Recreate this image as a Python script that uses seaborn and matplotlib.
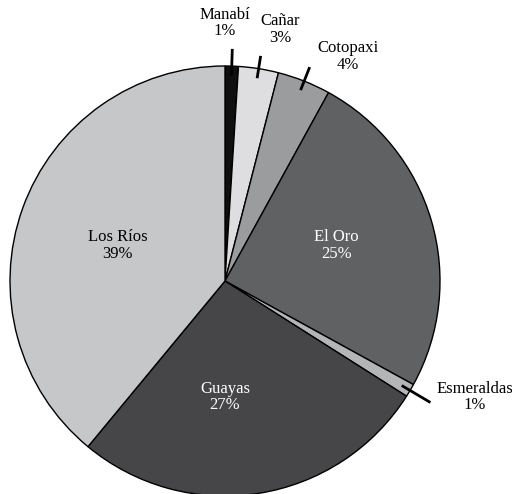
import matplotlib
matplotlib.use("Agg")
import matplotlib.pyplot as plt
import numpy as np
import seaborn as sns

# Share of production by province
provinces = ["Manabí", "Cañar", "Cotopaxi", "El Oro", "Esmeraldas", "Guayas", "Los Ríos"]
shares = [1, 3, 4, 25, 1, 27, 39]
fills = ["#0f0f0f", "#dedee0", "#9b9c9e", "#606163", "#b4b5b7", "#464649", "#c6c7c9"]
text_colors = ["black", "black", "black", "white", "black", "white", "black"]

# Label anchor points (axes data units, pie radius = 1)
label_x = [0.0, 0.256, 0.57, 0.52, 1.16, 0.0, -0.50]
label_y = [1.20, 1.17, 1.045, 0.165, -0.54, -0.54, 0.165]
# Slices whose labels sit outside the pie get a short leader tick
leader_outer = [1.08, 1.06, 1.07, None, 1.11, None, None]

sns.set_theme(style="white")
plt.rcParams["font.family"] = ["Liberation Serif", "DejaVu Serif"]

fig = plt.figure(figsize=(5.12, 4.94), dpi=100)
R_px, cx, cy = 215.0, 225.0, 281.0
W, H = 512.0, 494.0
ax = fig.add_axes([(cx - R_px) / W, (H - cy - R_px) / H, 2 * R_px / W, 2 * R_px / H])

wedges, _ = ax.pie(
    shares,
    colors=fills,
    startangle=90,
    counterclock=False,
    radius=1.0,
    wedgeprops=dict(edgecolor="black", linewidth=1.0),
)
ax.set_xlim(-1, 1)
ax.set_ylim(-1, 1)
ax.set_aspect("equal")
ax.axis("off")

for w, name, pct, x, y, tc, outer in zip(
    wedges, provinces, shares, label_x, label_y, text_colors, leader_outer
):
    ax.text(x, y, f"{name}\n{pct}%", ha="center", va="center", color=tc,
            fontsize=12, linespacing=1.05, clip_on=False)
    if outer is not None:
        ang = np.deg2rad((w.theta1 + w.theta2) / 2)
        r0 = 0.955
        ax.plot([r0 * np.cos(ang), outer * np.cos(ang)],
                [r0 * np.sin(ang), outer * np.sin(ang)],
                color="black", linewidth=2.0, clip_on=False, solid_capstyle="butt")

fig.savefig("out.png", dpi=100)
